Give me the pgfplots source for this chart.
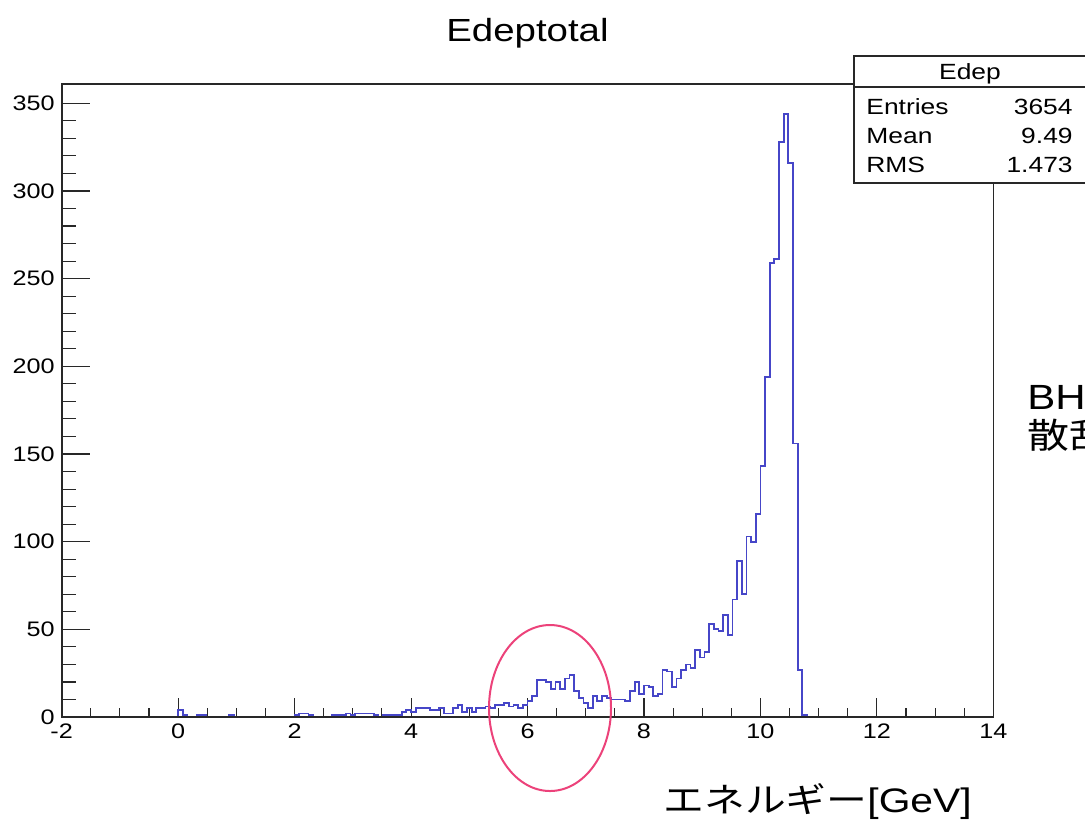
\documentclass[border=0pt]{standalone}
\usepackage{pgfplots}
\usepackage{pgfplotstable}
\pgfplotsset{compat=1.18}
\usepackage{fontspec}
\setmainfont{Liberation Sans}
\newfontfamily\jpfont{Noto Sans CJK JP}
% ROOT-style text is set slightly wide
\newcommand\wide[1]{\scalebox{1.2}[1]{#1}}
\definecolor{histblue}{RGB}{70,70,200}
\definecolor{ringpink}{RGB}{236,66,122}
\definecolor{framegray}{RGB}{40,40,40}

% Edep histogram: left bin edge (GeV), entries; 200 bins of 0.08 GeV on [-2,14]
\pgfplotstableread{
x y
-2.00 0
0.00 4
0.08 1
0.16 0
0.32 1
0.40 1
0.48 0
0.88 1
0.96 0
2.00 1
2.08 2
2.16 2
2.24 1
2.32 0
2.64 1
2.72 1
2.80 1
2.88 2
2.96 1
3.04 2
3.12 2
3.20 2
3.28 2
3.36 1
3.44 0
3.52 1
3.60 1
3.68 1
3.76 1
3.84 3
3.92 4
4.00 3
4.08 5
4.16 5
4.24 5
4.32 4
4.40 4
4.48 5
4.56 2
4.64 2
4.72 5
4.80 7
4.88 3
4.96 5
5.04 3
5.12 5
5.20 5
5.28 6
5.36 5
5.44 7
5.52 7
5.60 8
5.68 6
5.76 7
5.84 5
5.92 7
6.00 9
6.08 12
6.16 21
6.24 21
6.32 20
6.40 16
6.48 20
6.56 16
6.64 22
6.72 24
6.80 15
6.88 11
6.96 8
7.04 5
7.12 12
7.20 9
7.28 12
7.36 11
7.44 10
7.52 10
7.60 10
7.68 9
7.76 15
7.84 20
7.92 13
8.00 18
8.08 17
8.16 12
8.24 13
8.32 27
8.40 26
8.48 17
8.56 22
8.64 27
8.72 30
8.80 28
8.88 38
8.96 34
9.04 37
9.12 53
9.20 50
9.28 49
9.36 58
9.44 47
9.52 67
9.60 89
9.68 70
9.76 103
9.84 100
9.92 116
10.00 143
10.08 194
10.16 259
10.24 261
10.32 328
10.40 344
10.48 316
10.56 156
10.64 27
10.72 1
10.80 0
14.00 0
}\edeptable

\pgfplotsset{
  edepframe/.style={
    at={(30.85pt,-358.5pt)}, anchor=south west,
    scale only axis, width=465.8pt, height=316.5pt,
    xmin=-2, xmax=14, ymin=0, ymax=361,
    axis line style={framegray, line width=0.8pt},
    tick align=inside,
    tick style={framegray, line width=0.55pt},
    tick label style={font=\fontsize{10.5}{12}\selectfont},
  }
}

\begin{document}
\begin{tikzpicture}
\useasboundingbox (0pt,0pt) rectangle (542.5pt,-410.5pt);
\clip (0pt,0pt) rectangle (542.5pt,-410.5pt);

% energy axis ticks and the histogram
\begin{axis}[edepframe,
  xtick={-2,0,...,14}, minor x tick num=3, xtick pos=lower,
  major tick length=9.5pt, minor tick length=4.5pt,
  ytick=\empty,
  xticklabel={\wide{\pgfmathprintnumber[assume math mode=true]{\tick}}},
]
\addplot[const plot, histblue, line width=0.9pt] table[x=x, y=y] {\edeptable};
\end{axis}

% count axis ticks
\begin{axis}[edepframe,
  xtick=\empty,
  ytick={0,50,...,350}, minor y tick num=4, ytick pos=left,
  major tick length=14pt, minor tick length=7pt,
  yticklabel={\wide{\pgfmathprintnumber[assume math mode=true]{\tick}}},
]
\end{axis}

\begin{scope}[x=0.5pt, y=-0.5pt]
  % title
  \node[anchor=base, inner sep=0, font=\fontsize{16}{19}\selectfont] at (527.5,41) {\wide{Edeptotal}};

  % statistics box
  \draw[framegray, line width=0.75pt, fill=white] (854,56) rectangle (1095,183);
  \draw[framegray, line width=0.75pt] (854,87) -- (1095,87);
  \begin{scope}[every node/.style={inner sep=0, font=\fontsize{11}{13}\selectfont}]
    \node[anchor=base] at (970,79.5) {\wide{Edep}};
    \node[anchor=base west] at (866,114) {\wide{Entries}};
    \node[anchor=base west] at (866,143) {\wide{Mean}};
    \node[anchor=base west] at (866,172.5) {\wide{RMS}};
    \node[anchor=base east] at (1073,114) {\wide{3654}};
    \node[anchor=base east] at (1073,143) {\wide{9.49}};
    \node[anchor=base east] at (1073,172.5) {\wide{1.473}};
  \end{scope}

  % annotations
  \draw[ringpink, line width=1pt] (550,708) ellipse [x radius=61, y radius=83];
  \node[anchor=base west, inner sep=0, font=\fontsize{17.5}{21}\selectfont] at (1027,409) {\wide{BH}};
  \node[anchor=base west, inner sep=0, font=\fontsize{17.5}{21}\selectfont] at (1027,448) {\wide{\jpfont 散乱}};
  \node[anchor=base west, inner sep=0, font=\fontsize{17}{20}\selectfont] at (663,812) {\wide{{\jpfont エネルギー}[GeV]}};
\end{scope}
\end{tikzpicture}
\end{document}
